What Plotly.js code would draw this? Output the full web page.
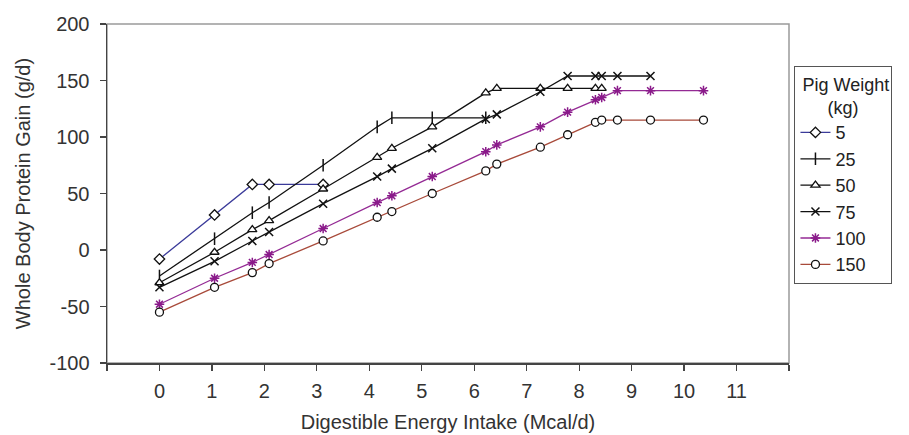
<!DOCTYPE html>
<html>
<head>
<meta charset="utf-8">
<script src="https://cdn.plot.ly/plotly-3.0.1.min.js"></script>
<style>html,body{margin:0;padding:0;background:#fff;}#chart{width:909px;height:435px;}</style>
</head>
<body>
<div id="chart"></div>
<script>
// ---- data ----
const x5   = [0, 1.05, 1.77, 2.09, 3.12];
const y5   = [-8, 31, 58, 58, 58];

const x25  = [0, 1.05, 1.77, 2.09, 3.12, 4.15, 4.43, 5.2, 6.22];
const y25  = [-23, 10, 33, 42, 75, 109, 117, 117, 117];

const x50  = [0, 1.05, 1.77, 2.09, 3.12, 4.15, 4.43, 5.2, 6.22, 6.43, 7.26, 7.78, 8.31, 8.43];
const y50  = [-29, -2, 18, 26, 54, 82, 90, 109, 139, 143, 143, 143, 143, 143];

const x75  = [0, 1.05, 1.77, 2.09, 3.12, 4.15, 4.43, 5.2, 6.22, 6.43, 7.26, 7.78, 8.31, 8.43, 8.73, 9.36];
const y75  = [-33, -10, 8, 16, 41, 65, 72, 90, 116, 120, 140, 154, 154, 154, 154, 154];

const x100 = [0, 1.05, 1.77, 2.09, 3.12, 4.15, 4.43, 5.2, 6.22, 6.43, 7.26, 7.78, 8.31, 8.43, 8.73, 9.36, 10.37];
const y100 = [-48, -25, -11, -4, 19, 42, 48, 65, 87, 93, 109, 122, 133, 135, 141, 141, 141];

const x150 = [0, 1.05, 1.77, 2.09, 3.12, 4.15, 4.43, 5.2, 6.22, 6.43, 7.26, 7.78, 8.31, 8.43, 8.73, 9.36, 10.37];
const y150 = [-55, -33, -20, -12, 8, 29, 34, 50, 70, 76, 91, 102, 113, 115, 115, 115, 115];

const seriesNames = ['5', '25', '50', '75', '100', '150'];
const xTickVals  = [-1, 0, 1, 2, 3, 4, 5, 6, 7, 8, 9, 10, 11, 12];
const xTickText  = ['', '0', '1', '2', '3', '4', '5', '6', '7', '8', '9', '10', '11', ''];
const yTickVals  = [-100, -50, 0, 50, 100, 150, 200];
const yTickText  = ['-100', '-50', '0', '50', '100', '150', '200'];

// ---- styles ----
const FONT = 'Liberation Sans, Arial, sans-serif';
function trFilled(x, y, name, lineColor, symbol, edgeColor, size) {
  return {
    x: x, y: y, name: name, type: 'scatter', mode: 'lines+markers',
    line: {color: lineColor, width: 1.3},
    marker: {symbol: symbol, size: size, color: '#ffffff',
             line: {color: edgeColor, width: 1.3}}
  };
}
function trOpen(x, y, name, lineColor, symbol, edgeColor, size) {
  return {
    x: x, y: y, name: name, type: 'scatter', mode: 'lines+markers',
    line: {color: lineColor, width: 1.3},
    marker: {symbol: symbol, size: size, color: edgeColor,
             line: {color: edgeColor, width: 1.5}}
  };
}
const data = [
  trFilled(x5,   y5,   seriesNames[0], '#3b3b9a', 'diamond',       '#111111', 8),
  trOpen  (x25,  y25,  seriesNames[1], '#111111', 'line-ns-open',  '#111111', 9),
  trFilled(x50,  y50,  seriesNames[2], '#111111', 'triangle-up',   '#111111', 8),
  trOpen  (x75,  y75,  seriesNames[3], '#111111', 'x-thin-open',   '#111111', 8),
  trOpen  (x100, y100, seriesNames[4], '#942a94', 'asterisk-open', '#8a1a8a', 8),
  trFilled(x150, y150, seriesNames[5], '#a84a3a', 'circle',        '#111111', 8)
];

const axCommon = {
  showgrid: false, zeroline: false,
  tickfont: {family: FONT, size: 20, color: '#333333'},
  tickcolor: '#444444', tickwidth: 1.2, ticklen: 6
};

const layout = {
  width: 909, height: 435,
  margin: {l: 107, r: 120, t: 24, b: 72, autoexpand: false},
  paper_bgcolor: '#ffffff', plot_bgcolor: '#ffffff',
  font: {family: FONT, color: '#333333'},
  showlegend: true,
  xaxis: Object.assign({}, axCommon, {
    range: [-1, 12], tickmode: 'array', tickvals: xTickVals, ticktext: xTickText,
    ticks: 'outside', ticklabelstandoff: 3,
    showline: true, linecolor: '#444444', linewidth: 1.5,
    title: {text: 'Digestible Energy Intake (Mcal/d)', font: {family: FONT, size: 20, color: '#333333'}, standoff: 14}
  }),
  xaxis2: Object.assign({}, axCommon, {
    range: [-1, 12], tickmode: 'array', tickvals: xTickVals, overlaying: 'x', anchor: 'y',
    side: 'bottom', ticks: 'inside', ticklen: 5, showticklabels: false, showline: false
  }),
  yaxis: Object.assign({}, axCommon, {
    range: [-100, 200], tickmode: 'array', tickvals: yTickVals, ticktext: yTickText,
    ticks: 'outside', ticklabelstandoff: 6,
    showline: true, linecolor: '#444444', linewidth: 1.5,
    title: {text: 'Whole Body Protein Gain (g/d)', font: {family: FONT, size: 20, color: '#333333'}, standoff: 13}
  }),
  yaxis2: Object.assign({}, axCommon, {
    range: [-100, 200], tickmode: 'array', tickvals: yTickVals, overlaying: 'y', anchor: 'x',
    side: 'left', ticks: 'inside', ticklen: 5, showticklabels: false, showline: false
  }),
  shapes: [{type: 'rect', xref: 'paper', yref: 'paper', x0: 0, x1: 1, y0: 0, y1: 1,
            line: {color: '#9a9a9a', width: 1.5}, layer: 'below'}],
  legend: {
    x: 1.008, xanchor: 'left', y: 0.875, yanchor: 'top',
    bgcolor: '#ffffff', bordercolor: '#555555', borderwidth: 1,
    font: {family: FONT, size: 18, color: '#222222'},
    title: {text: '\u00a0Pig Weight<br>\u00a0\u00a0\u00a0\u00a0\u00a0\u00a0(kg)', side: 'top', font: {family: FONT, size: 18, color: '#222222'}},
    itemwidth: 30
  }
};

Plotly.newPlot('chart', data, layout, {displayModeBar: false, staticPlot: true});
</script>
</body>
</html>
